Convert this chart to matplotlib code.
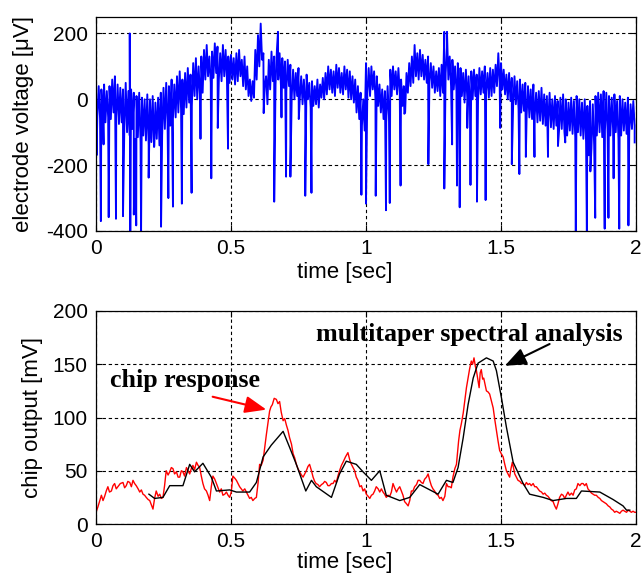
import numpy as np
import matplotlib
matplotlib.use('Agg')
import matplotlib.pyplot as plt

plt.rcParams['axes.unicode_minus'] = False
plt.rcParams['font.family'] = ['Liberation Sans', 'DejaVu Sans']

# ---------------- top panel: electrode voltage (uV) ----------------
# local max / local min of the trace in each 10 ms window, t = 0.00 ... 1.99 s
eeg_hi = [35, 40, 30, 45, 25, 40, 60, 70, 45, 35, 30, 50, 25, 30, 20, 10, 20, 5, 0, 15,
          0, 10, -10, 5, 20, 35, 50, 40, 60, 45, 70, 85, 60, 80, 95, 75, 110, 125, 100, 130,
          150, 165, 130, 145, 170, 160, 140, 165, 150, 130, 135, 125, 140, 150, 120, 130, 100, 60, 55, 150,
          195, 230, 140, 70, 120, 145, 130, 150, 140, 125, 115, 120, 105, 90, 80, 95, 70, 60, 75, 50,
          55, 40, 60, 45, 65, 80, 100, 90, 85, 105, 95, 80, 100, 90, 85, 70, 60, 40, 20, 0,
          110, 95, 100, 85, 70, 45, 30, 25, 40, 90, 100, 85, 95, 60, 40, 80, 110, 130, 165, 140,
          150, 135, 120, 130, 110, 100, 85, 95, 105, 205, 160, 130, 120, 100, 110, 95, 80, 90, 70, 85,
          90, 75, 95, 85, 100, 80, 95, 90, 105, 140, 110, 90, 75, 80, 65, 70, 55, 60, 45, 50,
          40, 30, 45, 20, 25, 35, 15, 10, 20, 0, 10, -5, 5, 15, 0, -10, 5, -5, 10, 0,
          -10, 0, -20, -5, -15, 10, 20, 15, 25, 20, 10, 5, 15, -5, 10, 0, -10, 5, -15, -5]
eeg_lo = [-50, -60, -45, -70, -55, -60, -40, -55, -75, -70, -85, -100, -110, -90, -120, -115, -130, -110, -125, -140,
          -130, -145, -120, -140, -110, -90, -70, -80, -60, -55, -40, -30, -45, -25, -10, -20, 10, 0, 15, 20,
          60, 70, 50, 65, 80, 60, 55, 70, 60, 50, 60, 45, 55, 70, 40, 30, 10, -5, 5, 60,
          100, 120, 40, -15, 30, 55, 45, 60, 40, 35, 25, 40, 10, 0, 10, 5, -15, -20, 0, -25,
          -20, -15, -25, 5, 0, 15, 30, 20, 10, 35, 20, 15, 30, 5, 0, -10, -40, -60, -80, -95,
          20, 10, 30, 0, -20, -40, -60, -70, -50, 10, 30, 15, 20, -20, -40, 20, 40, 50, 70, 60,
          70, 60, 50, 55, 35, 20, 25, 10, 20, 80, 60, 40, 30, 25, 30, 10, -10, 5, -20, 0,
          10, -5, 15, 20, 25, 5, 10, 20, 40, 50, 30, 15, 0, -5, -20, -15, -30, -40, -35, -50,
          -55, -60, -50, -70, -65, -75, -80, -70, -85, -90, -80, -95, -90, -100, -110, -95, -105, -115, -100, -110,
          -120, -130, -170, -150, -140, -110, -100, -115, -95, -105, -110, -90, -100, -120, -110, -95, -105, -100, -90, -80]
# isolated spikes (time s, value uV)
spike_t = [0.002, 0.018, 0.028, 0.047, 0.074, 0.100, 0.125, 0.127, 0.140, 0.149, 0.167, 0.195, 0.216,
           0.241, 0.268, 0.285, 0.318, 0.354, 0.387, 0.427, 0.451, 0.489,
           0.621, 0.660, 0.674, 0.687, 0.704, 0.720, 0.751, 0.775, 0.798, 0.983, 1.000,
           1.036, 1.074, 1.088, 1.128, 1.142, 1.231, 1.290, 1.300, 1.319, 1.337, 1.347, 1.375, 1.387, 1.411, 1.443,
           1.497, 1.540, 1.568, 1.592, 1.624, 1.674, 1.711, 1.738, 1.777, 1.818, 1.831, 1.849, 1.884, 1.898,
           1.917, 1.938, 1.972, 1.995]
spike_v = [-170, -370, -137, -358, -363, -355, 200, -404, -350, -383, -404, -238, -142,
           -387, -300, -326, -317, -284, -120, -240, -87, -150,
           -42, -311, 205, -55, -235, -235, -60, -293, -284, -290, -317,
           -293, -337, -315, -262, -44, -197, -271, 205, -137, -262, -328, -87, -260, -311, -306,
           -87, -197, -227, -175, -175, -175, -142, -131, -404, -404, -219, -360, -393, -360,
           -240, -393, -383, -131]

# ---------------- bottom panel: chip output (mV) ----------------
red_t = [0.000, 0.007, 0.014, 0.020, 0.026, 0.032, 0.038, 0.044, 0.050, 0.057, 0.063, 0.069, 0.075, 0.081,
         0.090, 0.100, 0.106, 0.112, 0.118, 0.125, 0.131, 0.137, 0.143, 0.149, 0.156, 0.162, 0.168, 0.174,
         0.180, 0.186, 0.193, 0.199, 0.205, 0.211, 0.217, 0.223, 0.230, 0.236, 0.242, 0.248, 0.254, 0.260,
         0.267, 0.273, 0.279, 0.285, 0.291, 0.298, 0.304, 0.310, 0.316, 0.322, 0.328, 0.335, 0.341, 0.347,
         0.353, 0.359, 0.365, 0.372, 0.378, 0.384, 0.390, 0.396, 0.402, 0.409, 0.415, 0.421, 0.427, 0.433,
         0.440, 0.446, 0.452, 0.458, 0.464, 0.470, 0.477, 0.483, 0.489, 0.495, 0.501, 0.507, 0.514, 0.520,
         0.526, 0.532, 0.538, 0.544, 0.551, 0.557, 0.563, 0.569, 0.575, 0.581, 0.588, 0.594, 0.600, 0.606,
         0.612, 0.619, 0.625, 0.631, 0.637, 0.643, 0.648, 0.653, 0.660, 0.668, 0.674, 0.680, 0.686, 0.693,
         0.699, 0.705, 0.711, 0.717, 0.724, 0.730, 0.736, 0.742, 0.748, 0.754, 0.761, 0.767, 0.773, 0.779,
         0.785, 0.791, 0.798, 0.804, 0.810, 0.815, 0.822, 0.828, 0.835, 0.841, 0.847, 0.853, 0.859, 0.865,
         0.872, 0.878, 0.884, 0.890, 0.896, 0.902, 0.909, 0.915, 0.924, 0.933, 0.940, 0.946, 0.952, 0.958,
         0.964, 0.970, 0.977, 0.983, 0.989, 0.995, 1.001, 1.008, 1.014, 1.020, 1.026, 1.032, 1.038, 1.045,
         1.051, 1.057, 1.063, 1.069, 1.075, 1.082, 1.088, 1.094, 1.100, 1.106, 1.113, 1.119, 1.125, 1.131,
         1.137, 1.143, 1.150, 1.156, 1.162, 1.168, 1.174, 1.180, 1.187, 1.193, 1.199, 1.205, 1.211, 1.217,
         1.224, 1.230, 1.236, 1.242, 1.248, 1.254, 1.261, 1.267, 1.273, 1.279, 1.285, 1.292, 1.298, 1.304,
         1.310, 1.316, 1.322, 1.329, 1.335, 1.343, 1.348, 1.353, 1.360, 1.366, 1.372, 1.378, 1.384, 1.390,
         1.395, 1.400, 1.405, 1.409, 1.414, 1.419, 1.423, 1.427, 1.432, 1.436, 1.441, 1.446, 1.452, 1.458,
         1.464, 1.471, 1.477, 1.483, 1.489, 1.495, 1.501, 1.508, 1.514, 1.520, 1.526, 1.532, 1.537, 1.542,
         1.547, 1.551, 1.557, 1.563, 1.570, 1.576, 1.582, 1.588, 1.594, 1.600, 1.606, 1.612, 1.619, 1.625,
         1.631, 1.637, 1.643, 1.650, 1.656, 1.662, 1.668, 1.674, 1.680, 1.686, 1.693, 1.699, 1.705, 1.711,
         1.717, 1.724, 1.730, 1.736, 1.742, 1.748, 1.754, 1.761, 1.767, 1.773, 1.779, 1.785, 1.792, 1.798,
         1.804, 1.810, 1.816, 1.822, 1.829, 1.835, 1.841, 1.847, 1.853, 1.860, 1.866, 1.872, 1.878, 1.884,
         1.890, 1.897, 1.903, 1.909, 1.915, 1.921, 1.927, 1.934, 1.940, 1.946, 1.952, 1.958, 1.965, 1.971,
         1.977, 1.983, 1.989, 1.995, 2.000]
red_v = [11, 16, 22, 27, 22, 26, 31, 35, 30, 31, 36, 38, 33, 35,
         38, 39, 34, 36, 40, 39, 35, 41, 38, 36, 33, 30, 32, 28,
         27, 25, 23, 22, 18, 14, 24, 31, 26, 28, 24, 25, 36, 50,
         46, 49, 53, 52, 47, 49, 44, 44, 50, 49, 45, 53, 50, 47,
         52, 55, 51, 58, 55, 53, 45, 38, 33, 31, 27, 22, 35, 45,
         42, 38, 34, 30, 33, 27, 28, 30, 27, 25, 30, 45, 43, 41,
         38, 35, 33, 31, 33, 30, 27, 24, 25, 22, 24, 25, 38, 56,
         55, 60, 72, 84, 95, 106, 110, 112, 118, 117, 113, 115, 105, 97,
         99, 93, 88, 81, 75, 66, 62, 56, 52, 49, 46, 44, 47, 50,
         54, 56, 50, 44, 40, 38, 37, 35, 37, 38, 40, 39, 36, 36,
         38, 38, 41, 39, 45, 50, 55, 58, 63, 67, 60, 56, 53, 50,
         44, 41, 35, 36, 31, 33, 28, 26, 24, 27, 28, 31, 35, 33,
         30, 33, 30, 28, 25, 27, 26, 30, 38, 34, 30, 33, 35, 31,
         27, 21, 19, 17, 22, 31, 31, 35, 37, 41, 41, 39, 38, 42,
         44, 47, 41, 36, 33, 31, 28, 27, 24, 25, 22, 26, 38, 35,
         35, 34, 44, 52, 56, 78, 88, 94, 104, 116, 128, 137, 146, 153,
         150, 156, 148, 144, 136, 128, 142, 145, 136, 137, 131, 125, 124, 122,
         116, 109, 98, 88, 78, 69, 66, 63, 56, 50, 47, 44, 52, 58,
         52, 47, 44, 41, 40, 38, 38, 36, 39, 37, 38, 36, 38, 35,
         35, 33, 31, 30, 28, 29, 27, 26, 24, 22, 21, 17, 14, 19,
         25, 28, 27, 24, 27, 30, 27, 29, 27, 32, 33, 38, 36, 38,
         38, 36, 38, 33, 31, 29, 28, 27, 27, 25, 24, 22, 21, 20,
         19, 17, 16, 14, 13, 11, 12, 11, 10, 12, 13, 12, 11, 13,
         12, 11, 12, 11, 11]

mt_t = [0.196, 0.217, 0.248, 0.273, 0.322, 0.347, 0.365, 0.396, 0.427, 0.446, 0.495, 0.520, 0.569, 0.594,
        0.619, 0.649, 0.693, 0.717, 0.742, 0.777, 0.798, 0.816, 0.872, 0.902, 0.927, 0.964, 0.989, 1.020,
        1.051, 1.075, 1.125, 1.162, 1.199, 1.267, 1.298, 1.322, 1.341, 1.360, 1.378, 1.397, 1.415, 1.446,
        1.471, 1.483, 1.502, 1.520, 1.545, 1.582, 1.606, 1.656, 1.693, 1.742, 1.779, 1.798, 1.866, 1.915,
        1.952, 1.965, 1.977]
mt_v = [28, 24, 25, 36, 36, 56, 49, 57, 44, 31, 32, 30, 30, 39,
        63, 74, 87, 72, 56, 31, 41, 35, 25, 47, 59, 56, 49, 41,
        50, 27, 22, 25, 37, 28, 41, 39, 53, 81, 112, 137, 151, 156,
        153, 144, 118, 91, 58, 38, 28, 25, 22, 24, 24, 31, 30, 23,
        17, 13, 13]

xticks = [0, 0.5, 1, 1.5, 2]
xticklabels = ['0', '0.5', '1', '1.5', '2']
top_yticks = [-400, -200, 0, 200]
bot_yticks = [0, 50, 100, 150, 200]

# ---------------- build the dense top trace ----------------
n = len(eeg_hi)
t_base = np.arange(n) * 0.01
tt = np.concatenate([t_base, t_base + 0.005, np.array(spike_t)])
vv = np.concatenate([np.array(eeg_hi), np.array(eeg_lo), np.array(spike_v)])
order = np.argsort(tt, kind='stable')
tt, vv = tt[order], vv[order]

fig = plt.figure(figsize=(6.42, 5.81), dpi=100)
ax1 = fig.add_axes([96 / 642, 1 - 231 / 581, 540 / 642, 214 / 581])
ax2 = fig.add_axes([96 / 642, 1 - 524 / 581, 540 / 642, 213 / 581])

ax1.plot(tt, vv, color='#0000ff', lw=1.35)
ax2.plot(red_t, red_v, color='#ff0000', lw=1.0)
ax2.plot(mt_t, mt_v, color='#000000', lw=1.0)

grid_ls = (0, (3, 2.5))
for ax in (ax1, ax2):
    ax.set_xlim(0, 2)
    ax.set_xticks(xticks)
    ax.set_xticklabels(xticklabels)
    ax.grid(True, color='k', linestyle=grid_ls, linewidth=0.8)
    ax.tick_params(direction='in', top=True, right=True, length=4, width=0.8,
                   labelsize=15, pad=6)
    for s in ax.spines.values():
        s.set_linewidth(0.9)
    ax.set_xlabel('time [sec]', fontsize=16)

ax1.set_ylim(-400, 250)
ax1.set_yticks(top_yticks)
ax2.set_ylim(0, 200)
ax2.set_yticks(bot_yticks)

ax1.set_ylabel('electrode voltage [\u03bcV]', fontsize=16)
ax2.set_ylabel('chip output [mV]', fontsize=16)
ax1.yaxis.set_label_coords(-0.115, 0.5)
ax2.yaxis.set_label_coords(-0.098, 0.5)
ax1.xaxis.set_label_coords(0.46, -0.145)
ax2.xaxis.set_label_coords(0.46, -0.131)

serif = ['Liberation Serif', 'DejaVu Serif']
ax2.text(0.053, 129, 'chip response', family=serif, fontweight='bold', fontsize=18.7,
         ha='left', va='baseline')
ax2.text(0.816, 172, 'multitaper spectral analysis', family=serif, fontweight='bold',
         fontsize=18.7, ha='left', va='baseline')
ax2.annotate('', xy=(0.631, 107.4), xytext=(0.432, 119.5),
             arrowprops=dict(arrowstyle='-|>,head_length=1.0,head_width=0.4', color='#ff0000',
                             lw=1.5, shrinkA=0, shrinkB=0, mutation_scale=13))
ax2.annotate('', xy=(1.514, 148.5), xytext=(1.680, 169),
             arrowprops=dict(arrowstyle='-|>,head_length=1.0,head_width=0.4', color='#000000',
                             lw=1.5, shrinkA=0, shrinkB=0, mutation_scale=13))

fig.savefig('out.png', dpi=100)
